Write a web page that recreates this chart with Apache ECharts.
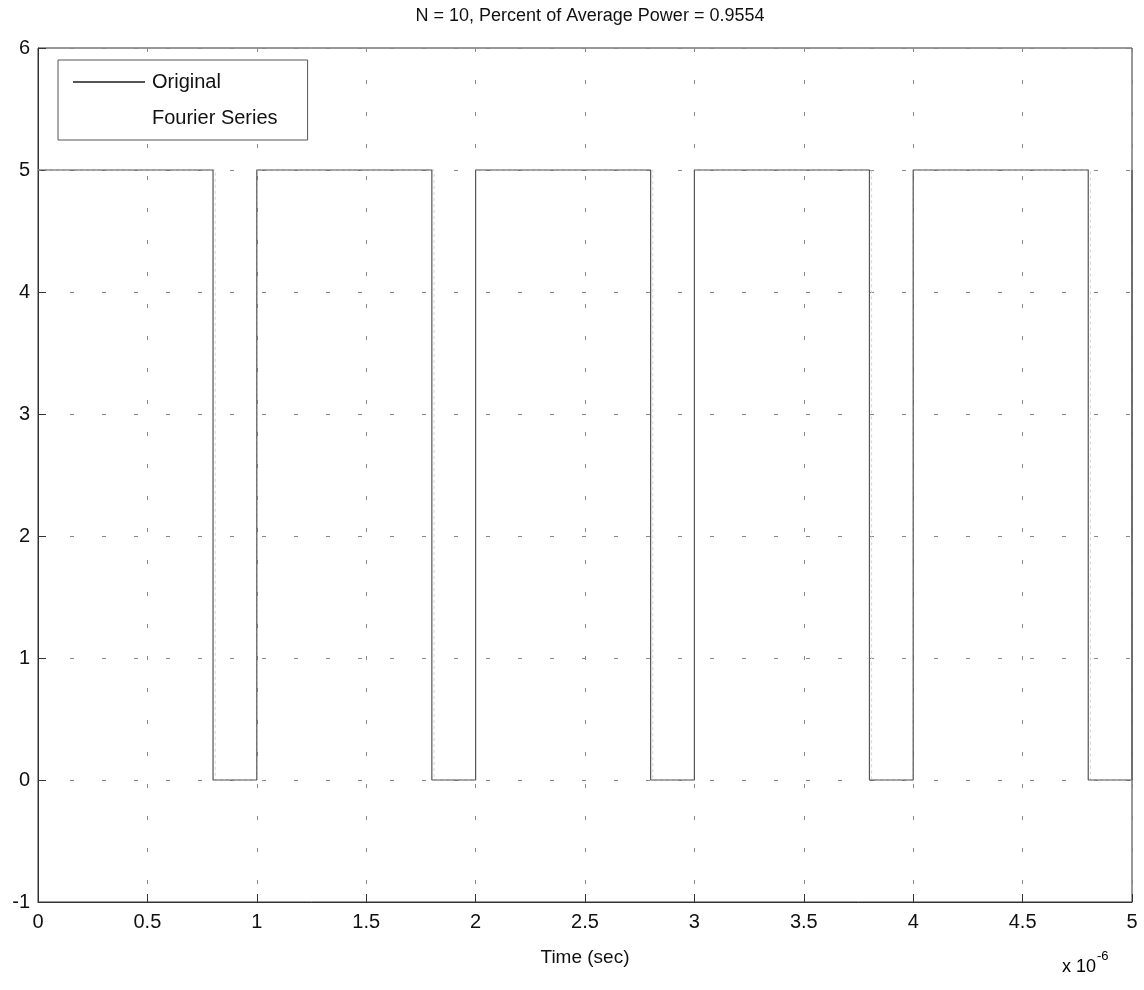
<!DOCTYPE html>
<html>
<head>
<meta charset="utf-8">
<script src="https://cdn.jsdelivr.net/npm/echarts@6/dist/echarts.min.js"></script>
<style>
  html, body { margin: 0; padding: 0; background: #fff; }
  #chart { width: 1144px; height: 990px; }
</style>
</head>
<body>
<div id="chart"></div>
<script>
// time in units of 1e-6 sec
const timeOriginal = [0, 0.8, 0.8, 1, 1, 1.8, 1.8, 2, 2, 2.8, 2.8, 3, 3, 3.8, 3.8, 4, 4, 4.8, 4.8, 5, 5]
const valOriginal  = [5, 5,   0,   0, 5, 5,   0,   0, 5, 5,   0,   0, 5, 5,   0,   0, 5, 5,   0,   0, 5]
// fourier series drawn nearly on top of the original (faint in the scan)
const timeFourier = [0, 0.81, 0.81, 1, 1, 1.81, 1.81, 2, 2, 2.81, 2.81, 3, 3, 3.81, 3.81, 4, 4, 4.81, 4.81, 5]
const valFourier  = [5, 5,    0,    0, 5, 5,    0,    0, 5, 5,    0,    0, 5, 5,    0,    0, 5, 5,    0,    0]

const xTicks = [0, 0.5, 1, 1.5, 2, 2.5, 3, 3.5, 4, 4.5, 5]
const yTicks = [-1, 0, 1, 2, 3, 4, 5, 6]

const titleText = 'N = 10, Percent of Average Power = 0.9554'
const font = 'Liberation Sans, Arial, sans-serif'

const pairs = (xs, ys) => xs.map((x, i) => [x, ys[i]])

const chartDom = document.getElementById('chart')
const myChart = echarts.init(chartDom)

const gridLine = {
  show: true,
  lineStyle: { color: '#888', width: 1, type: [4, 28] }
}

const option = {
  backgroundColor: '#fff',
  animation: false,
  title: {
    text: titleText,
    left: 585,
    textAlign: 'center',
    top: 2,
    textStyle: { fontFamily: font, fontSize: 18, fontWeight: 'normal', color: '#111' }
  },
  legend: {
    orient: 'vertical',
    left: 58,
    top: 60,
    width: 254,
    itemWidth: 72,
    itemHeight: 14,
    itemGap: 16,
    padding: [12, 30, 12, 14],
    borderColor: '#555',
    borderWidth: 1,
    backgroundColor: '#fff',
    itemStyle: { opacity: 0 },
    data: [
      { name: 'Original' },
      { name: 'Fourier Series', lineStyle: { opacity: 0 } }
    ],
    textStyle: { fontFamily: font, fontSize: 20, color: '#111', padding: [0, 0, 0, 2] }
  },
  grid: { left: 38, right: 12, top: 48, bottom: 88, containLabel: false },
  xAxis: {
    type: 'value',
    min: 0,
    max: 5,
    interval: 0.5,
    name: 'Time (sec)',
    nameLocation: 'middle',
    nameGap: 46,
    nameTextStyle: { fontFamily: font, fontSize: 19, color: '#111' },
    axisLine: { show: true, onZero: false, lineStyle: { color: '#333' } },
    axisTick: { show: true, inside: true, length: 8, lineStyle: { color: '#333' } },
    axisLabel: { fontFamily: font, fontSize: 20, color: '#111', margin: 10,
      formatter: v => String(xTicks.find(t => Math.abs(t - v) < 1e-9) ?? v) },
    splitLine: gridLine
  },
  yAxis: {
    type: 'value',
    min: -1,
    max: 6,
    interval: 1,
    axisLine: { show: true, onZero: false, lineStyle: { color: '#333' } },
    axisTick: { show: true, inside: true, length: 8, lineStyle: { color: '#333' } },
    axisLabel: { fontFamily: font, fontSize: 20, color: '#111', margin: 8,
      formatter: v => String(yTicks.find(t => t === v) ?? v) },
    splitLine: gridLine
  },
  graphic: [
    {
      type: 'rect',
      shape: { x: 38, y: 48, width: 1094, height: 854 },
      style: { fill: 'none', stroke: '#333', lineWidth: 1 },
      silent: true,
      z: 0
    },
    {
      type: 'text',
      left: 1062,
      top: 950,
      style: {
        text: '{a|x 10}{b|-6}',
        rich: {
          a: { fontFamily: font, fontSize: 18, color: '#111', padding: [12, 0, 0, 0] },
          b: { fontFamily: font, fontSize: 13, color: '#111', padding: [0, 0, 10, 1] }
        }
      }
    }
  ],
  series: [
    {
      name: 'Fourier Series',
      type: 'line',
      showSymbol: false,
      symbol: 'none',
      data: pairs(timeFourier, valFourier),
      lineStyle: { color: '#d4d4d4', width: 1, type: [3, 3] },
      itemStyle: { color: '#d4d4d4' },
      z: 2
    },
    {
      name: 'Original',
      type: 'line',
      showSymbol: false,
      symbol: 'none',
      data: pairs(timeOriginal, valOriginal),
      lineStyle: { color: '#555', width: 1.2 },
      itemStyle: { color: '#555' },
      z: 3
    }
  ]
}

myChart.setOption(option)
window.onresize = function () {
  myChart.resize()
}
</script>
</body>
</html>
